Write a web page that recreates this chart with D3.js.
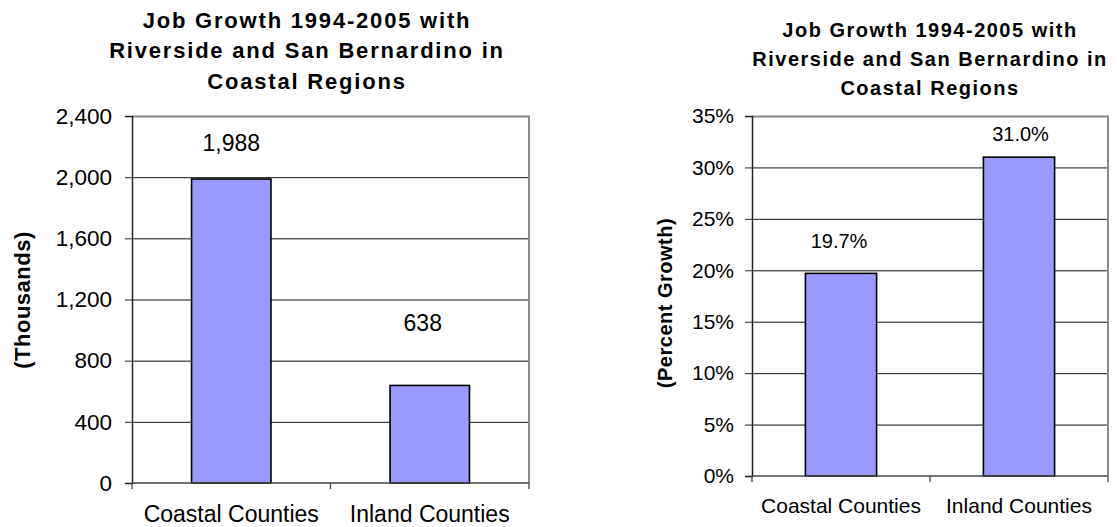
<!DOCTYPE html>
<html>
<head>
<meta charset="utf-8">
<script src="https://cdn.jsdelivr.net/npm/d3@7"></script>
<style>
  body { margin: 0; background: #fff; }
  svg { display: block; }
  text { font-family: "Liberation Sans", Arial, Helvetica, sans-serif; fill: #000; }
</style>
</head>
<body>
<div class="viz"></div>
<script>
// data
var categories = ["Coastal Counties", "Inland Counties"];
var growthThousands = [1988, 638];
var growthPercent = [19.7, 31.0];
var thousandsTicks = [0, 400, 800, 1200, 1600, 2000, 2400];
var percentTicks = [0, 5, 10, 15, 20, 25, 30, 35];
var titleLines = ["Job Growth 1994-2005 with", "Riverside and San Bernardino in", "Coastal Regions"];

var width = 1117,
    height = 527;

var svg = d3.select(".viz").append("svg")
    .attr("width", width)
    .attr("height", height);

function drawChart(opts) {
    var g = svg.append("g");

    var x = d3.scaleBand()
        .domain(categories)
        .range([opts.left, opts.right])
        .padding(0);

    var y = d3.scaleLinear()
        .domain([0, d3.max(opts.ticks)])
        .range([opts.bottom, opts.top]);

    // gridlines
    g.selectAll(".grid")
        .data(opts.ticks.slice(1, -1))
        .enter().append("line")
        .attr("x1", opts.left).attr("x2", opts.right)
        .attr("y1", function(d) { return y(d) + 0.5; })
        .attr("y2", function(d) { return y(d) + 0.5; })
        .attr("stroke", "#111")
        .attr("stroke-width", 1);

    // plot frame (top + right, grey)
    g.append("path")
        .attr("d", "M" + opts.left + "," + (opts.top + 0.5) + "H" + opts.right + "V" + opts.bottom)
        .attr("fill", "none")
        .attr("stroke", "#8a8a8a")
        .attr("stroke-width", 2);

    // bars
    var barW = x.bandwidth() * 0.4;
    g.selectAll(".bar")
        .data(opts.values)
        .enter().append("rect")
        .attr("x", function(d, i) { return x(categories[i]) + (x.bandwidth() - barW) / 2; })
        .attr("y", function(d) { return y(d); })
        .attr("width", barW)
        .attr("height", function(d) { return y(0) - y(d); })
        .attr("fill", "#9999ff")
        .attr("stroke", "#000")
        .attr("stroke-width", 1.6);

    // value labels
    g.selectAll(".val")
        .data(opts.values)
        .enter().append("text")
        .attr("x", function(d, i) { return x(categories[i]) + x.bandwidth() / 2 + opts.labelDx[i]; })
        .attr("y", function(d, i) { return y(d) - opts.labelLift[i]; })
        .attr("text-anchor", "middle")
        .style("font-size", opts.valueSize + "px")
        .text(function(d) { return opts.valueFormat(d); });

    // y axis
    var yAxis = d3.axisLeft(y)
        .tickValues(opts.ticks)
        .tickSize(7)
        .tickPadding(opts.tickPad)
        .tickFormat(opts.tickFormat);

    var ya = g.append("g")
        .attr("transform", "translate(" + opts.left + ",0)")
        .call(yAxis);
    ya.select(".domain").attr("stroke", "#222").attr("stroke-width", 1.5);
    ya.selectAll(".tick line").attr("stroke", "#222");
    ya.selectAll(".tick text")
        .style("font-size", opts.tickSize + "px")
        .attr("font-family", null)
        .attr("fill", "#000");

    // x axis line + boundary ticks
    g.append("line")
        .attr("x1", opts.left).attr("x2", opts.right)
        .attr("y1", opts.bottom).attr("y2", opts.bottom)
        .attr("stroke", "#444")
        .attr("stroke-width", 1.6);

    g.selectAll(".xtick")
        .data(d3.range(categories.length + 1))
        .enter().append("line")
        .attr("x1", function(i) { return opts.left + i * x.step(); })
        .attr("x2", function(i) { return opts.left + i * x.step(); })
        .attr("y1", opts.bottom)
        .attr("y2", opts.bottom + 6)
        .attr("stroke", "#444")
        .attr("stroke-width", 1.3);

    g.selectAll(".cat")
        .data(categories)
        .enter().append("text")
        .attr("x", function(d) { return x(d) + x.bandwidth() / 2; })
        .attr("y", opts.catY)
        .attr("text-anchor", "middle")
        .style("font-size", opts.catSize + "px")
        .text(function(d) { return d; });

    // y axis title
    g.append("text")
        .attr("transform", "translate(" + opts.yTitleX + "," + opts.yTitleY + ") rotate(-90)")
        .attr("text-anchor", "middle")
        .style("font-size", opts.yTitleSize + "px")
        .style("font-weight", "bold")
        .style("letter-spacing", "0.5px")
        .text(opts.yTitle);

    // chart title
    g.selectAll(".title")
        .data(titleLines)
        .enter().append("text")
        .attr("x", opts.titleX)
        .attr("y", function(d, i) { return opts.titleY + i * opts.titleStep; })
        .attr("text-anchor", "middle")
        .style("font-size", opts.titleSize + "px")
        .style("font-weight", "bold")
        .style("letter-spacing", opts.titleSpacing + "px")
        .text(function(d) { return d; });
}

drawChart({
    values: growthThousands,
    ticks: thousandsTicks,
    tickFormat: d3.format(","),
    valueFormat: d3.format(","),
    left: 132, right: 529, top: 116, bottom: 483,
    tickPad: 13, tickSize: 22.5,
    valueSize: 23, labelLift: [28, 54], labelDx: [0, -7],
    catSize: 23, catY: 522,
    yTitle: "(Thousands)", yTitleX: 30, yTitleY: 300, yTitleSize: 22,
    titleX: 307, titleY: 28, titleStep: 30.3, titleSize: 22, titleSpacing: 1.8
});

drawChart({
    values: growthPercent,
    ticks: percentTicks,
    tickFormat: function(d) { return d + "%"; },
    valueFormat: function(d) { return d3.format(".1f")(d) + "%"; },
    left: 752, right: 1108, top: 116, bottom: 476,
    tickPad: 11, tickSize: 21,
    valueSize: 20, labelLift: [25, 16], labelDx: [-2, 1.5],
    catSize: 21, catY: 513,
    yTitle: "(Percent Growth)", yTitleX: 672, yTitleY: 303, yTitleSize: 20,
    titleX: 930, titleY: 37, titleStep: 29, titleSize: 20, titleSpacing: 1.5
});
</script>
</body>
</html>
